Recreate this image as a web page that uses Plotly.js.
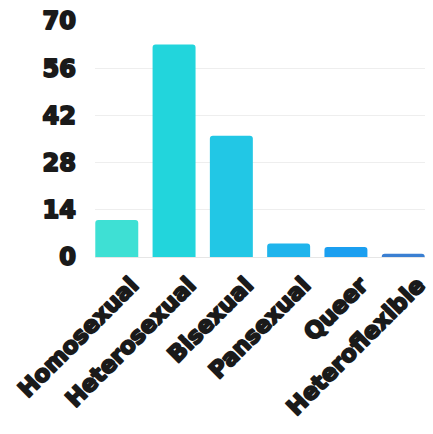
<!DOCTYPE html>
<html><head><meta charset="utf-8">
<script src="https://cdn.plot.ly/plotly-3.0.1.min.js"></script>
<style>html,body{margin:0;padding:0;background:#fff}#c{width:433px;height:434px}
.xtick text,.ytick text{stroke:#1a1a1a;stroke-width:1.9px;stroke-linejoin:round}</style>
</head><body><div id="c"></div>
<script>
const categories = ["Homosexual","Heterosexual","Bisexual","Pansexual","Queer","Heteroflexible"];
const values = [11, 63, 36, 4, 3, 1];
const barColors = ["#3ee0d4","#22d5dc","#22c7e5","#1fb4ec","#1b9ff0","#3a7fd2"];
const yTicks = [0,14,28,42,56,70];
const F = "'DejaVu Sans', sans-serif";
Plotly.newPlot("c", [{
  type: "bar", x: categories, y: values,
  marker: {color: barColors, cornerradius: 3},
  hoverinfo: "none"
}], {
  width: 433, height: 434,
  margin: {l: 95, r: 8, t: 21, b: 177},
  paper_bgcolor: "#fff", plot_bgcolor: "#fff",
  bargap: 0.25,
  showlegend: false,
  xaxis: {range: [-0.38, 5.38], tickangle: -45, showgrid: false, zeroline: false, showline: false, ticks: "", automargin: false,
    ticklabelshift: 15, ticklabelstandoff: 9,
    tickfont: {family: F, size: 23, color: "#1a1a1a", weight: "bold"}},
  yaxis: {range: [0, 70], tickvals: yTicks, showgrid: true, gridcolor: "#eeeeee", zeroline: true, zerolinecolor: "#e6e6e6",
    showline: false, ticks: "", ticklabelstandoff: 18, automargin: false,
    tickfont: {family: F, size: 24, color: "#1a1a1a", weight: "bold"}}
}, {displayModeBar: false, staticPlot: true});
</script></body></html>
